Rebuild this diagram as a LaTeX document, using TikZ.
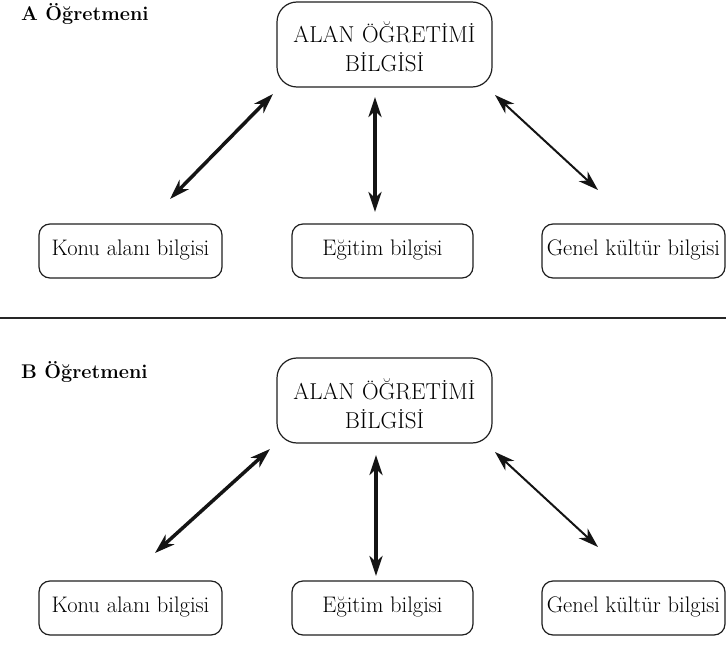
\documentclass[tikz,border=0pt]{standalone}
\usetikzlibrary{arrows.meta}
\begin{document}
\begin{tikzpicture}[x=1pt,y=-1pt,
  ink/.style={draw=black!88, line width=1.2pt},
  topbox/.style={ink, rounded corners=20pt, text width=213pt, align=center,
    inner xsep=1pt, inner ysep=0pt, minimum height=85pt,
    font=\fontsize{23}{29}\selectfont, text height=26pt, text depth=29pt},
  botbox/.style={ink, rounded corners=11pt, inner sep=0pt, minimum height=54pt,
    font=\fontsize{22.5}{26}\selectfont, text height=14pt, text depth=4.5pt},
  header/.style={anchor=base west, inner sep=0pt, font=\fontsize{19.8}{24}\selectfont\bfseries},
  arr/.style={draw=black!92, {Stealth[length=20pt,width=13pt,inset=6pt]}-{Stealth[length=20pt,width=13pt,inset=6pt]}},
  heavy/.style={arr, line width=3.5pt},
  heavier/.style={arr, line width=4pt},
  light/.style={arr, line width=2pt}
]
\useasboundingbox (0,0) rectangle (726,658);

% ---------- A ----------
\node[header] (ha) at (21,21) {A Öğretmeni};
\node[topbox] (ta) at (384.5,44.5) {ALAN ÖĞRETİMİ\\BİLGİSİ};
\node[botbox, minimum width=183pt] (ka) at (130.5,251) {Konu alanı bilgisi};
\node[botbox, minimum width=181pt] (ea) at (382.5,251) {Eğitim bilgisi};
\node[botbox, minimum width=183pt] (ga) at (633.5,251) {Genel kültür bilgisi};

\coordinate (a1t) at (273,94);  \coordinate (a1b) at (170,199);
\coordinate (a2t) at (375,97);  \coordinate (a2b) at (375,212);
\coordinate (a3t) at (495,95);  \coordinate (a3b) at (598,190);
\draw[heavy] (a1t) -- (a1b);
\draw[heavier] (a2t) -- (a2b);
\draw[light] (a3t) -- (a3b);

% ---------- separator ----------
\coordinate (sl) at (0,318);
\coordinate (sr) at (726,318);
\draw[draw=black!85, line width=1.3pt] (sl) -- (sr);

% ---------- B ----------
\node[header] (hb) at (21,378) {B Öğretmeni};
\node[topbox] (tb) at (384.5,400.5) {ALAN ÖĞRETİMİ\\BİLGİSİ};
\node[botbox, minimum width=183pt] (kb) at (130.5,608) {Konu alanı bilgisi};
\node[botbox, minimum width=181pt] (eb) at (382.5,608) {Eğitim bilgisi};
\node[botbox, minimum width=183pt] (gb) at (633.5,608) {Genel kültür bilgisi};

\coordinate (b1t) at (270,449);  \coordinate (b1b) at (155,553);
\coordinate (b2t) at (376,455);  \coordinate (b2b) at (376,576);
\coordinate (b3t) at (495,452);  \coordinate (b3b) at (598,547);
\draw[heavy] (b1t) -- (b1b);
\draw[heavier] (b2t) -- (b2b);
\draw[light] (b3t) -- (b3b);
\end{tikzpicture}
\end{document}
